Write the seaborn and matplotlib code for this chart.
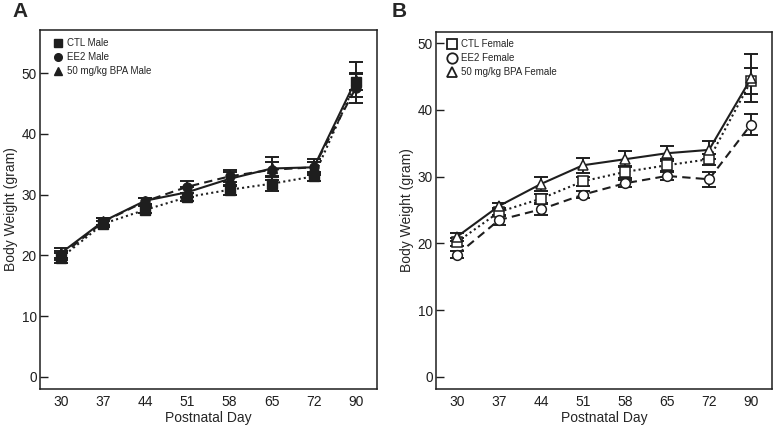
"""
Body weight by postnatal day for male (A) and female (B) mice, CTL / EE2 / BPA.
Writes out.png.
"""

import matplotlib

matplotlib.use("Agg")

import matplotlib.pyplot as plt
import pandas as pd
import seaborn as sns
from matplotlib.lines import Line2D

days = ["30", "37", "44", "51", "58", "65", "72", "90"]
groups = ["CTL", "EE2", "50 mg/kg BPA"]

# male means and SEM (gram)
male_ctl = [19.6, 25.2, 27.5, 29.6, 30.8, 31.8, 33.0, 48.5]
male_ee2 = [20.0, 25.5, 28.9, 31.3, 33.0, 34.1, 34.5, 47.6]
male_bpa = [20.4, 25.6, 29.0, 30.4, 32.6, 34.3, 34.5, 48.9]
male_ctl_sem = [0.8, 0.5, 0.6, 0.7, 0.8, 1.2, 0.8, 1.3]
male_ee2_sem = [0.8, 0.6, 0.5, 1.0, 1.0, 1.2, 0.9, 2.5]
male_bpa_sem = [0.8, 0.6, 0.5, 0.8, 1.2, 1.9, 1.3, 2.9]

# female means and SEM (gram)
female_ctl = [20.2, 24.7, 26.7, 29.3, 30.7, 31.7, 32.6, 44.3]
female_ee2 = [18.3, 23.5, 25.1, 27.3, 29.0, 30.1, 29.6, 37.8]
female_bpa = [21.0, 25.6, 28.9, 31.7, 32.6, 33.5, 34.0, 44.7]
female_ctl_sem = [0.6, 0.6, 0.7, 0.7, 0.9, 0.9, 0.8, 2.0]
female_ee2_sem = [0.5, 0.7, 0.8, 0.5, 0.5, 0.6, 1.1, 1.6]
female_bpa_sem = [0.6, 0.5, 1.0, 1.1, 1.2, 1.1, 1.3, 3.6]

INK = "#1e1e1e"
LINESTYLES = {"CTL": (0, (1, 1.5)), "EE2": (0, (4, 2.5)), "50 mg/kg BPA": "-"}
MARKERS = {"CTL": "s", "EE2": "o", "50 mg/kg BPA": "^"}


def make_frame(means, sems):
    rows = []
    for grp, m, s in zip(groups, means, sems):
        for i, day in enumerate(days):
            rows.append({"pos": i, "day": day, "group": grp, "weight": m[i], "sem": s[i]})
    return pd.DataFrame(rows)


def draw_panel(ax, df, sex, filled, ylim, legend_cfg, ylabel_x):
    for grp in groups:
        sub = df[df["group"] == grp]
        ax.errorbar(
            sub["pos"], sub["weight"], yerr=sub["sem"], fmt="none",
            ecolor=INK, elinewidth=1.4, capsize=4.8, capthick=1.4, zorder=2,
        )
        sns.lineplot(
            data=sub, x="pos", y="weight", ax=ax, color=INK,
            linestyle=LINESTYLES[grp], linewidth=1.5, zorder=3,
            marker=MARKERS[grp], markersize=6.5 if filled else 7,
            markerfacecolor=INK if filled else "white",
            markeredgecolor=INK, markeredgewidth=1.0 if filled else 1.1,
        )

    handles = [
        Line2D([], [], linestyle="none", marker=MARKERS[g], color=INK,
               markerfacecolor=INK if filled else "white",
               markersize=legend_cfg["msize"], markeredgewidth=1.0 if filled else 1.3)
        for g in groups
    ]
    ax.legend(handles, [f"{g} {sex}" for g in groups], loc="upper left",
              bbox_to_anchor=legend_cfg["anchor"], frameon=False, fontsize=7,
              handletextpad=legend_cfg["textpad"], labelspacing=0.4,
              borderaxespad=0.0, handlelength=1.0)

    ax.set_xlim(-0.5, 7.5)
    ax.set_ylim(*ylim)
    ax.set_xticks(range(len(days)))
    ax.set_xticklabels(days)
    ax.set_yticks([0, 10, 20, 30, 40, 50])
    ax.set_xlabel("Postnatal Day", fontsize=10, labelpad=1)
    ax.set_ylabel("Body Weight (gram)", fontsize=10)
    ax.yaxis.set_label_coords(ylabel_x, 0.5)
    ax.tick_params(axis="x", length=0, pad=4.5, labelsize=10, colors=INK)
    ax.tick_params(axis="y", direction="in", length=6, width=1.0, pad=2.5,
                   labelsize=9.8, colors=INK)
    for side in ax.spines.values():
        side.set_visible(True)
        side.set_linewidth(1.1)
        side.set_color(INK)


def main():
    sns.set_style("ticks")
    plt.rcParams["font.family"] = ["Liberation Sans", "DejaVu Sans"]

    fig = plt.figure(figsize=(7.76, 4.30), dpi=100)
    ax_a = fig.add_axes([40 / 776, 41 / 430, 337 / 776, 359 / 430])
    ax_b = fig.add_axes([436 / 776, 41 / 430, 336 / 776, 357 / 430])

    male_df = make_frame([male_ctl, male_ee2, male_bpa],
                         [male_ctl_sem, male_ee2_sem, male_bpa_sem])
    female_df = make_frame([female_ctl, female_ee2, female_bpa],
                           [female_ctl_sem, female_ee2_sem, female_bpa_sem])

    draw_panel(ax_a, male_df, "Male", True, (-2.0, 57.1),
               {"anchor": (0.027, 0.988), "textpad": 0.45, "msize": 5.5}, -0.066)
    draw_panel(ax_b, female_df, "Female", False, (-1.8, 51.65),
               {"anchor": (0.021, 0.99), "textpad": 0.45, "msize": 7.5}, -0.064)

    fig.text(12 / 776, 0.995, "A", fontsize=15, fontweight="bold", va="top", ha="left")
    fig.text(392 / 776, 0.995, "B", fontsize=15, fontweight="bold", va="top", ha="left")

    fig.savefig("out.png", dpi=100)
    plt.close(fig)


if __name__ == "__main__":
    main()
